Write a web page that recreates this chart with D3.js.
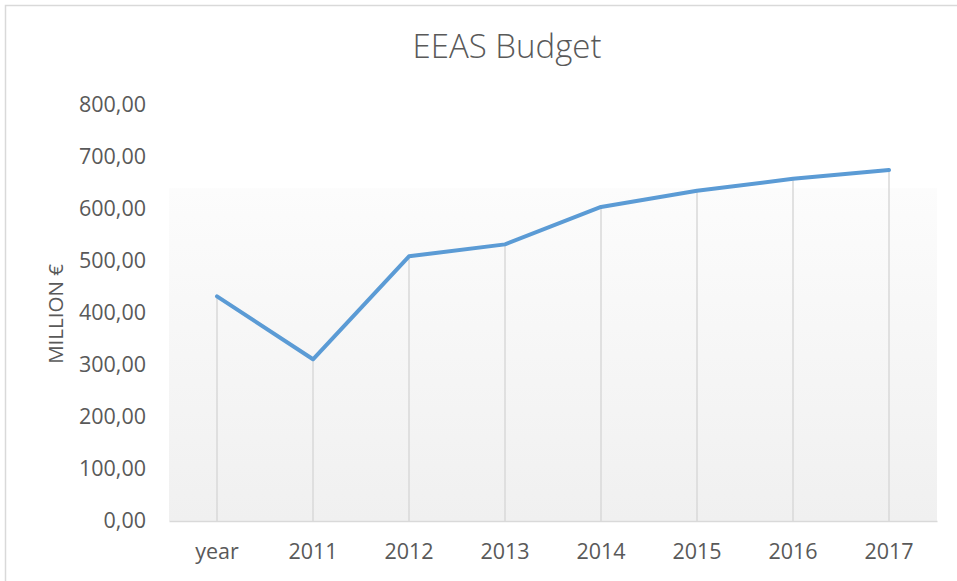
<!DOCTYPE html>
<html>
<head>
<meta charset="utf-8">
<script src="https://cdn.jsdelivr.net/npm/d3@7"></script>
<style>
  body { margin: 0; background: #fff; }
  svg text { font-family: "Open Sans", "Noto Sans", sans-serif; fill: #595959; }
</style>
</head>
<body>
<svg id="chart" width="957" height="581"></svg>
<script>
// categories on the x axis and the budget per category (million euro)
var categories = ["year", "2011", "2012", "2013", "2014", "2015", "2016", "2017"];
var budget = [432, 311, 509, 532, 604, 635, 658, 675];
var yTicks = [0, 100, 200, 300, 400, 500, 600, 700, 800];

var svg = d3.select("#chart");

//outer frame, only top and left edges show in the picture
svg.append("rect")
    .attr("x", 5.5).attr("y", 5.5)
    .attr("width", 960).attr("height", 590)
    .attr("fill", "#fff")
    .attr("stroke", "#d9d9d9")
    .attr("stroke-width", 1.5);

var x = d3.scaleBand().domain(categories).range([169, 937]);
var y = d3.scaleLinear().domain([0, 800]).range([521, 105]);

//soft gradient behind the plot
var grad = svg.append("defs").append("linearGradient")
    .attr("id", "plotbg").attr("x1", 0).attr("y1", 0).attr("x2", 0).attr("y2", 1);
grad.append("stop").attr("offset", "0%").attr("stop-color", "#fcfcfc");
grad.append("stop").attr("offset", "100%").attr("stop-color", "#f0f0f0");

var bgTop = 640;
svg.append("rect")
    .attr("x", x.range()[0])
    .attr("y", y(bgTop))
    .attr("width", x.range()[1] - x.range()[0])
    .attr("height", y(0) - y(bgTop))
    .attr("fill", "url(#plotbg)");

//title
svg.append("text")
    .attr("x", 507).attr("y", 58)
    .attr("text-anchor", "middle")
    .style("font-size", "33px")
    .style("font-weight", 300)
    .text("EEAS Budget");

//y axis labels
var yAxis = d3.axisLeft(y)
    .tickValues(yTicks)
    .tickSize(0)
    .tickPadding(0)
    .tickFormat(function(d) { return d3.format(".2f")(d).replace(".", ","); });

var yg = svg.append("g")
    .attr("transform", "translate(146,0)")
    .call(yAxis);
yg.select(".domain").remove();
yg.selectAll("text")
    .style("font-size", "21.5px")
    .attr("fill", "#595959");

svg.append("text")
    .attr("transform", "translate(63," + (y(400) + 1) + ") rotate(-90)")
    .attr("text-anchor", "middle")
    .style("font-size", "20.5px")
    .text("MILLION €");

//drop lines from each point to the axis
svg.append("g").selectAll("line")
    .data(categories)
    .enter().append("line")
    .attr("x1", function(d) { return x(d) + x.bandwidth() / 2; })
    .attr("x2", function(d) { return x(d) + x.bandwidth() / 2; })
    .attr("y1", function(d, i) { return y(budget[i]); })
    .attr("y2", y(0))
    .attr("stroke", "#d9d9d9")
    .attr("stroke-width", 1.5);

//x axis
var xAxis = d3.axisBottom(x).tickSize(0).tickPadding(0);
var xg = svg.append("g")
    .attr("transform", "translate(0," + y(0) + ")")
    .call(xAxis);
xg.select(".domain")
    .attr("stroke", "#d9d9d9")
    .attr("stroke-width", 1.5);
xg.selectAll("text")
    .attr("y", 23)
    .style("font-size", "21.5px")
    .attr("fill", "#595959");

//the budget line
var line = d3.line()
    .x(function(d, i) { return x(categories[i]) + x.bandwidth() / 2; })
    .y(function(d) { return y(d); });

svg.append("path")
    .datum(budget)
    .attr("d", line)
    .attr("fill", "none")
    .attr("stroke", "#5b9bd5")
    .attr("stroke-width", 4)
    .attr("stroke-linecap", "round")
    .attr("stroke-linejoin", "round");
</script>
</body>
</html>
